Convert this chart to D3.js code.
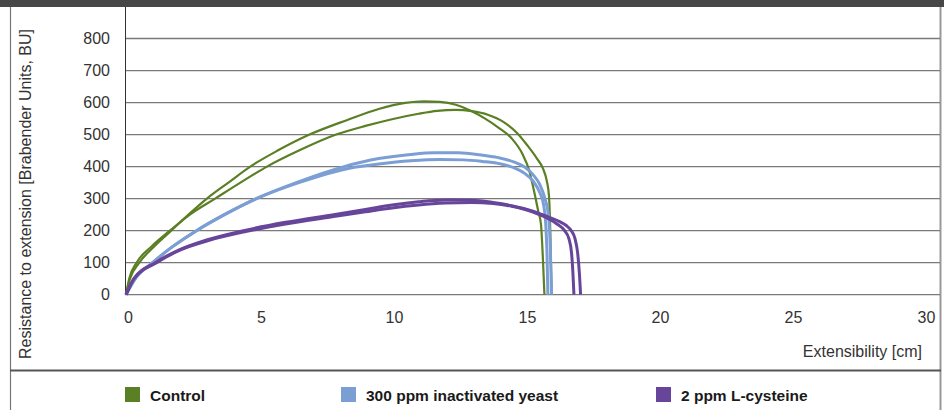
<!DOCTYPE html>
<html>
<head>
<meta charset="utf-8">
<script src="https://cdn.jsdelivr.net/npm/d3@7"></script>
<style>
  body { margin: 0; background: #fff; }
  svg { display: block; font-family: "Liberation Sans", Arial, sans-serif; }
</style>
</head>
<body>
<svg id="chart" width="944" height="410"></svg>
<script>
// extensogram curves, [extensibility cm, resistance BU]
const controlRep1 = [[0,0],[0.15,50],[0.5,100],[1.05,150],[1.7,200],[2.35,250],[3.04,300],[3.85,350],[4.67,400],[5.7,450],[6.9,500],[8.3,545],[9.5,580],[10.5,599],[11.2,604],[11.8,602],[12.4,593],[13.0,573],[13.5,550],[14.0,522],[14.5,488],[14.9,440],[15.15,390],[15.35,320],[15.5,260],[15.6,220],[15.68,100],[15.73,0]];
const controlRep2 = [[0,0],[0.12,50],[0.4,100],[0.95,150],[1.65,200],[2.4,250],[3.35,300],[4.3,350],[5.3,400],[6.5,450],[7.9,500],[9.0,527],[10.0,548],[11.0,565],[11.7,574],[12.4,577],[13.0,573],[13.6,562],[14.2,539],[14.7,505],[15.1,465],[15.45,425],[15.67,395],[15.82,355],[15.9,310],[15.95,200],[16.0,0]];
const yeastRep1 = [[0,0],[0.35,50],[1.0,100],[1.75,150],[2.65,200],[3.7,250],[4.9,300],[6.4,350],[8.2,400],[9.5,425],[10.7,438],[11.6,443],[12.5,443],[13.3,437],[14.0,428],[14.6,414],[15.0,398],[15.3,375],[15.55,345],[15.75,300],[15.88,250],[15.95,150],[16.0,0]];
const yeastRep2 = [[0,0],[0.35,50],[1.0,100],[1.75,150],[2.65,200],[3.7,250],[4.9,300],[6.5,350],[8.4,395],[9.5,408],[10.7,418],[11.8,422],[12.7,421],[13.4,416],[14.1,408],[14.6,396],[15.0,378],[15.3,355],[15.55,320],[15.7,280],[15.78,220],[15.83,120],[15.86,0]];
const cysteineRep1 = [[0,0],[0.3,50],[1.1,100],[2.0,140],[3.0,170],[4.42,200],[6.0,226],[7.8,250],[9.0,266],[10.0,280],[11.0,290],[12.0,295.5],[13.0,295],[13.8,288],[14.5,278],[15.3,261],[15.86,243],[16.3,228],[16.55,216],[16.74,200],[16.88,175],[16.98,130],[17.05,60],[17.09,0]];
const cysteineRep2 = [[0,0],[0.3,50],[1.15,100],[2.05,140],[3.1,169],[4.5,197],[6.0,221],[7.8,244],[9.0,259],[10.0,271],[11.0,280],[12.0,286],[13.0,288],[13.8,285],[14.5,276],[15.3,258],[15.86,238],[16.2,221],[16.49,200],[16.65,175],[16.75,130],[16.8,70],[16.84,0]];

const series = [
  { name: "Control", color: "#5b7f24", width: 2.2, reps: [controlRep1, controlRep2] },
  { name: "300 ppm inactivated yeast", color: "#7b9fd4", width: 3, reps: [yeastRep1, yeastRep2] },
  { name: "2 ppm L-cysteine", color: "#67459a", width: 3, reps: [cysteineRep1, cysteineRep2] }
];
const xTicks = [0, 5, 10, 15, 20, 25, 30];
const yTicks = [0, 100, 200, 300, 400, 500, 600, 700, 800];

const svg = d3.select("#chart");

const x = d3.scaleLinear().domain([0, 30]).range([126, 924]);
const y = d3.scaleLinear().domain([0, 800]).range([294.7, 38.5]);

// frame
svg.append("rect").attr("x", 0).attr("y", 0).attr("width", 944).attr("height", 7).attr("fill", "#474747");
svg.append("line").attr("x1", 10.5).attr("x2", 10.5).attr("y1", 7).attr("y2", 410)
  .attr("stroke", "#777").attr("stroke-width", 1.2);
svg.append("line").attr("x1", 940.5).attr("x2", 940.5).attr("y1", 7).attr("y2", 410)
  .attr("stroke", "#999").attr("stroke-width", 2);
svg.append("line").attr("x1", 10).attr("x2", 941).attr("y1", 370.5).attr("y2", 370.5)
  .attr("stroke", "#555").attr("stroke-width", 2);

// gridlines
svg.append("g").selectAll("line").data(yTicks).join("line")
  .attr("x1", 125).attr("x2", 940)
  .attr("y1", d => y(d)).attr("y2", d => y(d))
  .attr("stroke", "#7a7a7a").attr("stroke-width", 1.3);

svg.append("line").attr("x1", 125.5).attr("x2", 125.5).attr("y1", 7).attr("y2", y(0))
  .attr("stroke", "#333").attr("stroke-width", 1);

// axes (labels only)
const yAxis = svg.append("g").attr("transform", "translate(110,0)")
  .call(d3.axisLeft(y).tickValues(yTicks).tickSize(0).tickPadding(0));
const xAxis = svg.append("g").attr("transform", "translate(2,312)")
  .call(d3.axisBottom(x).tickValues(xTicks).tickSize(0).tickPadding(0));
[yAxis, xAxis].forEach(g => {
  g.select(".domain").remove();
  g.selectAll("text").attr("font-size", 16).attr("fill", "#333")
    .attr("font-family", "'Liberation Sans', Arial, sans-serif");
});

svg.append("text").attr("transform", "translate(31,194) rotate(-90)")
  .attr("text-anchor", "middle").attr("font-size", 16).attr("fill", "#333")
  .text("Resistance to extension [Brabender Units, BU]");
svg.append("text").attr("x", 922).attr("y", 357).attr("text-anchor", "end")
  .attr("font-size", 16).attr("fill", "#333").text("Extensibility [cm]");

// curves
const line = d3.line().x(d => x(d[0])).y(d => y(d[1])).curve(d3.curveMonotoneX);
series.forEach(s => {
  s.reps.forEach(r => {
    svg.append("path").attr("d", line(r)).attr("fill", "none")
      .attr("stroke", s.color).attr("stroke-width", s.width)
      .attr("stroke-linejoin", "round");
  });
});

// legend
const legendX = [125, 341, 656];
const legend = svg.append("g").selectAll("g").data(series).join("g")
  .attr("transform", (d, i) => `translate(${legendX[i]},387)`);
legend.append("rect").attr("width", 15).attr("height", 15).attr("fill", d => d.color);
legend.append("text").attr("x", 25).attr("y", 14).attr("font-size", 15.5)
  .attr("font-weight", "bold").attr("fill", "#1a1a1a").text(d => d.name);
</script>
</body>
</html>
